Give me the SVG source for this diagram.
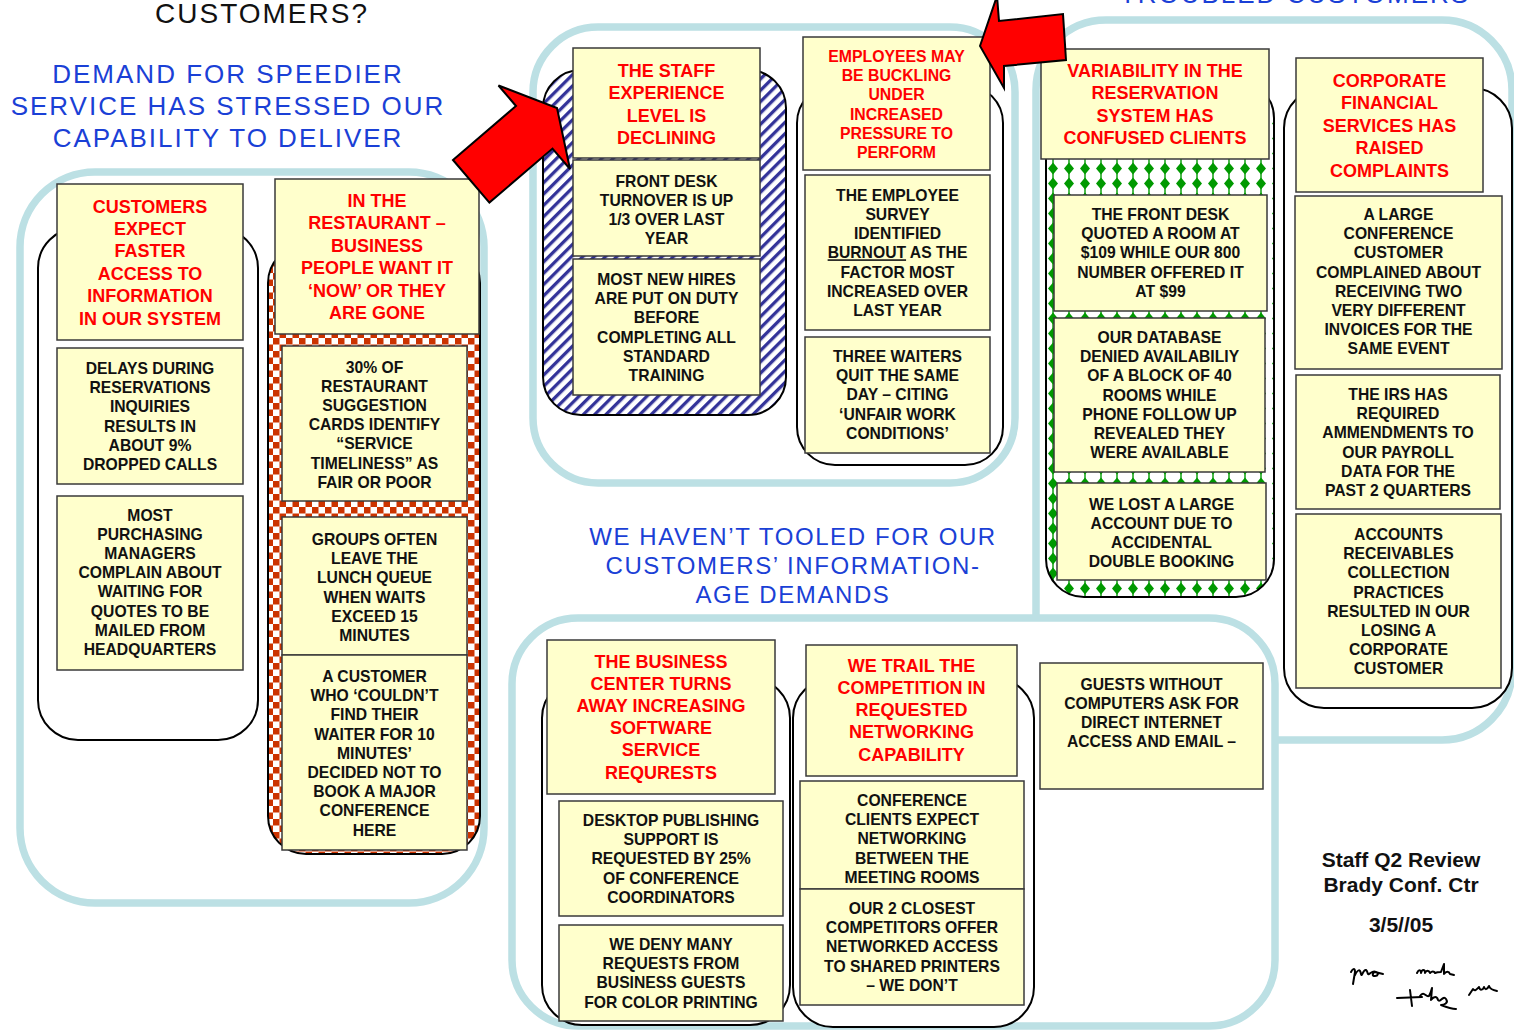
<svg xmlns="http://www.w3.org/2000/svg" width="1514" height="1030" viewBox="0 0 1514 1030">
<defs>
  <style>
    .frame { fill: #fff; stroke: #BCE0E4; stroke-width: 7.5; }
    .col { stroke: #000; stroke-width: 2; }
    .box { fill: #FFFFCC; stroke: #3a3a3a; stroke-width: 1.5; }
    .hd { font-family: "Liberation Sans", Arial, sans-serif; font-weight: bold; font-size: 18px; fill: #FF0000; text-anchor: middle; }
    .hs { font-family: "Liberation Sans", Arial, sans-serif; font-weight: bold; font-size: 15.8px; fill: #FF0000; text-anchor: middle; }
    .bd { font-family: "Liberation Sans", Arial, sans-serif; font-weight: bold; font-size: 15.7px; fill: #111; text-anchor: middle; }
    .title { font-family: "Liberation Sans", Arial, sans-serif; font-size: 26px; letter-spacing: 2px; fill: #1A40D6; text-anchor: middle; }
    .title2 { font-family: "Liberation Sans", Arial, sans-serif; font-size: 24px; letter-spacing: 1.6px; fill: #1A40D6; text-anchor: middle; }
    .sig { font-family: "Liberation Sans", Arial, sans-serif; font-weight: bold; font-size: 21px; fill: #111; text-anchor: middle; }
    .arrow { fill: #FF0000; stroke: #000; stroke-width: 2; stroke-linejoin: miter; }
    .ink { fill: none; stroke: #000; stroke-width: 2; stroke-linecap: round; stroke-linejoin: round; }
  </style>
  <pattern id="hatch" width="8" height="8" patternUnits="userSpaceOnUse" patternTransform="rotate(45)">
    <rect width="8" height="8" fill="#fff"/>
    <rect width="3.3" height="8" fill="#333399"/>
  </pattern>
  <pattern id="checker" width="13" height="13" patternUnits="userSpaceOnUse">
    <rect width="13" height="13" fill="#fff"/>
    <rect width="6.5" height="6.5" fill="#CC3300"/>
    <rect x="6.5" y="6.5" width="6.5" height="6.5" fill="#CC3300"/>
  </pattern>
  <pattern id="clover" x="1045" y="161" width="16" height="15" patternUnits="userSpaceOnUse">
    <rect width="16" height="15" fill="#fff"/>
    <path d="M8,1.5 L13,7.5 L8,13.5 L3,7.5Z" fill="#009900"/>
    <path d="M8,0 V15" stroke="#009900" stroke-width="1.4"/>
  </pattern>
</defs>

<rect width="1514" height="1030" fill="#fff"/>

<!-- headings -->
<text class="title" x="1295" y="3">TROUBLED CUSTOMERS</text>
<text class="title" x="262" y="23" style="font-size:28px;fill:#111">CUSTOMERS?</text>
<text class="title" x="228" y="83">DEMAND FOR SPEEDIER</text>
<text class="title" x="228" y="115">SERVICE HAS STRESSED OUR</text>
<text class="title" x="228" y="147">CAPABILITY TO DELIVER</text>
<text class="title2" x="793" y="545">WE HAVEN’T TOOLED FOR OUR</text>
<text class="title2" x="793" y="574">CUSTOMERS’ INFORMATION-</text>
<text class="title2" x="793" y="603">AGE DEMANDS</text>

<!-- group frames -->
<g id="frames">
  <rect class="frame" x="1036" y="20" width="476" height="720" rx="70"/>
  <rect class="frame" x="533" y="27" width="482" height="456" rx="65"/>
  <rect class="frame" x="20" y="172" width="464" height="731" rx="75"/>
  <rect class="frame" x="512" y="618" width="763" height="408" rx="66"/>
</g>

<!-- columns -->
<g id="columns">
  <rect class="col" x="38" y="228" width="220" height="512" rx="40" fill="#fff"/>
  <rect class="col" x="268" y="245" width="212" height="609" rx="38" fill="url(#checker)"/>
  <rect class="col" x="543" y="70" width="243" height="345" rx="38" fill="url(#hatch)"/>
  <rect class="col" x="797" y="85" width="206" height="380" rx="38" fill="#fff"/>
  <rect class="col" x="1046" y="80" width="228" height="517" rx="38" fill="url(#clover)"/>
  <rect class="col" x="1284" y="88" width="228" height="620" rx="40" fill="#fff"/>
  <rect class="col" x="542" y="678" width="248" height="347" rx="40" fill="#fff"/>
  <rect class="col" x="793" y="678" width="241" height="349" rx="40" fill="#fff"/>
</g>

<!-- nodes -->
<g id="n1"><rect class="box" x="57" y="184" width="186" height="156"/>
<text class="hd" y="212.5"><tspan x="150">CUSTOMERS</tspan><tspan x="150" dy="22.4">EXPECT</tspan><tspan x="150" dy="22.4">FASTER</tspan><tspan x="150" dy="22.4">ACCESS TO</tspan><tspan x="150" dy="22.4">INFORMATION</tspan><tspan x="150" dy="22.4">IN OUR SYSTEM</tspan></text></g>

<g id="n2"><rect class="box" x="57" y="348" width="186" height="136"/>
<text class="bd" y="374"><tspan x="150">DELAYS DURING</tspan><tspan x="150" dy="19.2">RESERVATIONS</tspan><tspan x="150" dy="19.2">INQUIRIES</tspan><tspan x="150" dy="19.2">RESULTS IN</tspan><tspan x="150" dy="19.2">ABOUT 9%</tspan><tspan x="150" dy="19.2">DROPPED CALLS</tspan></text></g>

<g id="n3"><rect class="box" x="57" y="496" width="186" height="174"/>
<text class="bd" y="520.5"><tspan x="150">MOST</tspan><tspan x="150" dy="19.2">PURCHASING</tspan><tspan x="150" dy="19.2">MANAGERS</tspan><tspan x="150" dy="19.2">COMPLAIN ABOUT</tspan><tspan x="150" dy="19.2">WAITING FOR</tspan><tspan x="150" dy="19.2">QUOTES TO BE</tspan><tspan x="150" dy="19.2">MAILED FROM</tspan><tspan x="150" dy="19.2">HEADQUARTERS</tspan></text></g>

<g id="n4"><rect class="box" x="275" y="179" width="204" height="155"/>
<text class="hd" y="207"><tspan x="377">IN THE</tspan><tspan x="377" dy="22.4">RESTAURANT –</tspan><tspan x="377" dy="22.4">BUSINESS</tspan><tspan x="377" dy="22.4">PEOPLE WANT IT</tspan><tspan x="377" dy="22.4">‘NOW’ OR THEY</tspan><tspan x="377" dy="22.4">ARE GONE</tspan></text></g>

<g id="n5"><rect class="box" x="282" y="346" width="185" height="155"/>
<text class="bd" y="372.5"><tspan x="374.5">30% OF</tspan><tspan x="374.5" dy="19.2">RESTAURANT</tspan><tspan x="374.5" dy="19.2">SUGGESTION</tspan><tspan x="374.5" dy="19.2">CARDS IDENTIFY</tspan><tspan x="374.5" dy="19.2">“SERVICE</tspan><tspan x="374.5" dy="19.2">TIMELINESS” AS</tspan><tspan x="374.5" dy="19.2">FAIR OR POOR</tspan></text></g>

<g id="n6"><rect class="box" x="282" y="517" width="185" height="138"/>
<text class="bd" y="545"><tspan x="374.5">GROUPS OFTEN</tspan><tspan x="374.5" dy="19.2">LEAVE THE</tspan><tspan x="374.5" dy="19.2">LUNCH QUEUE</tspan><tspan x="374.5" dy="19.2">WHEN WAITS</tspan><tspan x="374.5" dy="19.2">EXCEED 15</tspan><tspan x="374.5" dy="19.2">MINUTES</tspan></text></g>

<g id="n7"><rect class="box" x="282" y="655" width="185" height="195"/>
<text class="bd" y="682"><tspan x="374.5">A CUSTOMER</tspan><tspan x="374.5" dy="19.2">WHO ‘COULDN’T</tspan><tspan x="374.5" dy="19.2">FIND THEIR</tspan><tspan x="374.5" dy="19.2">WAITER FOR 10</tspan><tspan x="374.5" dy="19.2">MINUTES’</tspan><tspan x="374.5" dy="19.2">DECIDED NOT TO</tspan><tspan x="374.5" dy="19.2">BOOK A MAJOR</tspan><tspan x="374.5" dy="19.2">CONFERENCE</tspan><tspan x="374.5" dy="19.2">HERE</tspan></text></g>

<g id="n8"><rect class="box" x="573" y="48" width="187" height="110"/>
<text class="hd" y="77"><tspan x="666.5">THE STAFF</tspan><tspan x="666.5" dy="22.4">EXPERIENCE</tspan><tspan x="666.5" dy="22.4">LEVEL IS</tspan><tspan x="666.5" dy="22.4">DECLINING</tspan></text></g>

<g id="n9"><rect class="box" x="573" y="160" width="187" height="96"/>
<text class="bd" y="186.5"><tspan x="666.5">FRONT DESK</tspan><tspan x="666.5" dy="19.2">TURNOVER IS UP</tspan><tspan x="666.5" dy="19.2">1/3 OVER LAST</tspan><tspan x="666.5" dy="19.2">YEAR</tspan></text></g>

<g id="n10"><rect class="box" x="573" y="259" width="187" height="136"/>
<text class="bd" y="285"><tspan x="666.5">MOST NEW HIRES</tspan><tspan x="666.5" dy="19.2">ARE PUT ON DUTY</tspan><tspan x="666.5" dy="19.2">BEFORE</tspan><tspan x="666.5" dy="19.2">COMPLETING ALL</tspan><tspan x="666.5" dy="19.2">STANDARD</tspan><tspan x="666.5" dy="19.2">TRAINING</tspan></text></g>

<g id="n11"><rect class="box" x="803" y="37" width="187" height="133"/>
<text class="hs" y="62"><tspan x="896.5">EMPLOYEES MAY</tspan><tspan x="896.5" dy="19.2">BE BUCKLING</tspan><tspan x="896.5" dy="19.2">UNDER</tspan><tspan x="896.5" dy="19.2">INCREASED</tspan><tspan x="896.5" dy="19.2">PRESSURE TO</tspan><tspan x="896.5" dy="19.2">PERFORM</tspan></text></g>

<g id="n12"><rect class="box" x="805" y="175" width="185" height="155"/>
<text class="bd" y="200.7"><tspan x="897.5">THE EMPLOYEE</tspan><tspan x="897.5" dy="19.2">SURVEY</tspan><tspan x="897.5" dy="19.2">IDENTIFIED</tspan><tspan x="897.5" dy="19.2"><tspan text-decoration="underline">BURNOUT</tspan> AS THE</tspan><tspan x="897.5" dy="19.2">FACTOR MOST</tspan><tspan x="897.5" dy="19.2">INCREASED OVER</tspan><tspan x="897.5" dy="19.2">LAST YEAR</tspan></text></g>

<g id="n13"><rect class="box" x="805" y="337" width="185" height="116"/>
<text class="bd" y="362"><tspan x="897.5">THREE WAITERS</tspan><tspan x="897.5" dy="19.2">QUIT THE SAME</tspan><tspan x="897.5" dy="19.2">DAY – CITING</tspan><tspan x="897.5" dy="19.2">‘UNFAIR WORK</tspan><tspan x="897.5" dy="19.2">CONDITIONS’</tspan></text></g>

<g id="n14"><rect class="box" x="1041" y="49" width="228" height="110"/>
<text class="hd" y="77"><tspan x="1155">VARIABILITY IN THE</tspan><tspan x="1155" dy="22.4">RESERVATION</tspan><tspan x="1155" dy="22.4">SYSTEM HAS</tspan><tspan x="1155" dy="22.4">CONFUSED CLIENTS</tspan></text></g>

<g id="n15"><rect class="box" x="1054" y="195" width="213" height="116"/>
<text class="bd" y="220"><tspan x="1160.5">THE FRONT DESK</tspan><tspan x="1160.5" dy="19.2">QUOTED A ROOM AT</tspan><tspan x="1160.5" dy="19.2">$109 WHILE OUR 800</tspan><tspan x="1160.5" dy="19.2">NUMBER OFFERED IT</tspan><tspan x="1160.5" dy="19.2">AT $99</tspan></text></g>

<g id="n16"><rect class="box" x="1054" y="318" width="211" height="154"/>
<text class="bd" y="343"><tspan x="1159.5">OUR DATABASE</tspan><tspan x="1159.5" dy="19.2">DENIED AVAILABILIY</tspan><tspan x="1159.5" dy="19.2">OF A BLOCK OF 40</tspan><tspan x="1159.5" dy="19.2">ROOMS WHILE</tspan><tspan x="1159.5" dy="19.2">PHONE FOLLOW UP</tspan><tspan x="1159.5" dy="19.2">REVEALED THEY</tspan><tspan x="1159.5" dy="19.2">WERE AVAILABLE</tspan></text></g>

<g id="n17"><rect class="box" x="1057" y="483" width="209" height="97"/>
<text class="bd" y="509.5"><tspan x="1161.5">WE LOST A LARGE</tspan><tspan x="1161.5" dy="19.2">ACCOUNT DUE TO</tspan><tspan x="1161.5" dy="19.2">ACCIDENTAL</tspan><tspan x="1161.5" dy="19.2">DOUBLE BOOKING</tspan></text></g>

<g id="n18"><rect class="box" x="1296" y="58" width="187" height="134"/>
<text class="hd" y="87"><tspan x="1389.5">CORPORATE</tspan><tspan x="1389.5" dy="22.4">FINANCIAL</tspan><tspan x="1389.5" dy="22.4">SERVICES HAS</tspan><tspan x="1389.5" dy="22.4">RAISED</tspan><tspan x="1389.5" dy="22.4">COMPLAINTS</tspan></text></g>

<g id="n19"><rect class="box" x="1295" y="196" width="207" height="173"/>
<text class="bd" y="220"><tspan x="1398.5">A LARGE</tspan><tspan x="1398.5" dy="19.2">CONFERENCE</tspan><tspan x="1398.5" dy="19.2">CUSTOMER</tspan><tspan x="1398.5" dy="19.2">COMPLAINED ABOUT</tspan><tspan x="1398.5" dy="19.2">RECEIVING TWO</tspan><tspan x="1398.5" dy="19.2">VERY DIFFERENT</tspan><tspan x="1398.5" dy="19.2">INVOICES FOR THE</tspan><tspan x="1398.5" dy="19.2">SAME EVENT</tspan></text></g>

<g id="n20"><rect class="box" x="1296" y="375" width="204" height="134"/>
<text class="bd" y="400"><tspan x="1398">THE IRS HAS</tspan><tspan x="1398" dy="19.2">REQUIRED</tspan><tspan x="1398" dy="19.2">AMMENDMENTS TO</tspan><tspan x="1398" dy="19.2">OUR PAYROLL</tspan><tspan x="1398" dy="19.2">DATA FOR THE</tspan><tspan x="1398" dy="19.2">PAST 2 QUARTERS</tspan></text></g>

<g id="n21"><rect class="box" x="1296" y="514" width="205" height="174"/>
<text class="bd" y="540"><tspan x="1398.5">ACCOUNTS</tspan><tspan x="1398.5" dy="19.2">RECEIVABLES</tspan><tspan x="1398.5" dy="19.2">COLLECTION</tspan><tspan x="1398.5" dy="19.2">PRACTICES</tspan><tspan x="1398.5" dy="19.2">RESULTED IN OUR</tspan><tspan x="1398.5" dy="19.2">LOSING A</tspan><tspan x="1398.5" dy="19.2">CORPORATE</tspan><tspan x="1398.5" dy="19.2">CUSTOMER</tspan></text></g>

<g id="n22"><rect class="box" x="547" y="640" width="228" height="154"/>
<text class="hd" y="667.5"><tspan x="661">THE BUSINESS</tspan><tspan x="661" dy="22.2">CENTER TURNS</tspan><tspan x="661" dy="22.2">AWAY INCREASING</tspan><tspan x="661" dy="22.2">SOFTWARE</tspan><tspan x="661" dy="22.2">SERVICE</tspan><tspan x="661" dy="22.2">REQURESTS</tspan></text></g>

<g id="n23"><rect class="box" x="559" y="801" width="224" height="115"/>
<text class="bd" y="826"><tspan x="671">DESKTOP PUBLISHING</tspan><tspan x="671" dy="19.2">SUPPORT IS</tspan><tspan x="671" dy="19.2">REQUESTED BY 25%</tspan><tspan x="671" dy="19.2">OF CONFERENCE</tspan><tspan x="671" dy="19.2">COORDINATORS</tspan></text></g>

<g id="n24"><rect class="box" x="559" y="925" width="224" height="96"/>
<text class="bd" y="950"><tspan x="671">WE DENY MANY</tspan><tspan x="671" dy="19.2">REQUESTS FROM</tspan><tspan x="671" dy="19.2">BUSINESS GUESTS</tspan><tspan x="671" dy="19.2">FOR COLOR PRINTING</tspan></text></g>

<g id="n25"><rect class="box" x="806" y="645" width="211" height="131"/>
<text class="hd" y="671.5"><tspan x="911.5">WE TRAIL THE</tspan><tspan x="911.5" dy="22.3">COMPETITION IN</tspan><tspan x="911.5" dy="22.3">REQUESTED</tspan><tspan x="911.5" dy="22.3">NETWORKING</tspan><tspan x="911.5" dy="22.3">CAPABILITY</tspan></text></g>

<g id="n26"><rect class="box" x="800" y="781" width="224" height="108"/>
<text class="bd" y="806"><tspan x="912">CONFERENCE</tspan><tspan x="912" dy="19.2">CLIENTS EXPECT</tspan><tspan x="912" dy="19.2">NETWORKING</tspan><tspan x="912" dy="19.2">BETWEEN THE</tspan><tspan x="912" dy="19.2">MEETING ROOMS</tspan></text></g>

<g id="n27"><rect class="box" x="800" y="889" width="224" height="116"/>
<text class="bd" y="914"><tspan x="912">OUR 2 CLOSEST</tspan><tspan x="912" dy="19.2">COMPETITORS OFFER</tspan><tspan x="912" dy="19.2">NETWORKED ACCESS</tspan><tspan x="912" dy="19.2">TO SHARED PRINTERS</tspan><tspan x="912" dy="19.2">– WE DON’T</tspan></text></g>

<g id="n28"><rect class="box" x="1040" y="663" width="223" height="126"/>
<text class="bd" y="689.5"><tspan x="1151.5">GUESTS WITHOUT</tspan><tspan x="1151.5" dy="19.2">COMPUTERS ASK FOR</tspan><tspan x="1151.5" dy="19.2">DIRECT INTERNET</tspan><tspan x="1151.5" dy="19.2">ACCESS AND EMAIL –</tspan></text></g>

<!-- callout arrows -->
<g id="connectors">
  <polygon class="arrow" points="453,160 516,106 498.5,85.5 557,108 570,169 552.5,148.6 489.4,202.6"/>
  <polygon class="arrow" points="980,46 997,-4 999,21 1063,14 1066,60 1004,66 1004,88"/>
</g>

<!-- review stamp -->
<g id="stamp">
  <text class="sig" x="1401" y="867">Staff Q2 Review</text>
  <text class="sig" x="1401" y="892">Brady Conf. Ctr</text>
  <text class="sig" x="1401" y="932">3/5//05</text>
  <path class="ink" d="M1351,972 c2,-4 4,-4 4,0 l-2,12 M1355,975 c3,-6 5,-6 6,-1 c1,4 2,-5 5,-4 c2,1 1,5 3,4 c2,-1 4,-4 7,-2 c3,1 2,4 -1,4 c-3,0 -3,-3 0,-4 l8,2"/>
  <path class="ink" d="M1417,973 c2,-4 4,-3 4,0 c1,-4 4,-4 4,0 c1,-3 4,-3 5,0 c2,-2 4,-2 5,0 c2,-1 4,-1 6,-1 l3,-8 l0,10 c2,-3 5,-3 6,0 l4,1"/>
  <path class="ink" d="M1397,998 l25,-1 M1410,990 l2,16 M1420,996 c4,-6 6,2 9,0 c2,-4 3,-8 3,-8 l-1,12 c3,-4 6,-4 7,0 c2,3 5,-5 8,-1 c3,4 -2,6 -5,6 c5,2 10,4 15,4"/>
  <path class="ink" d="M1469,995 l4,-6 c2,3 4,0 6,-2 c1,4 4,3 5,0 c1,3 3,3 5,-1 c1,3 3,4 8,5"/>
</g>
</svg>
